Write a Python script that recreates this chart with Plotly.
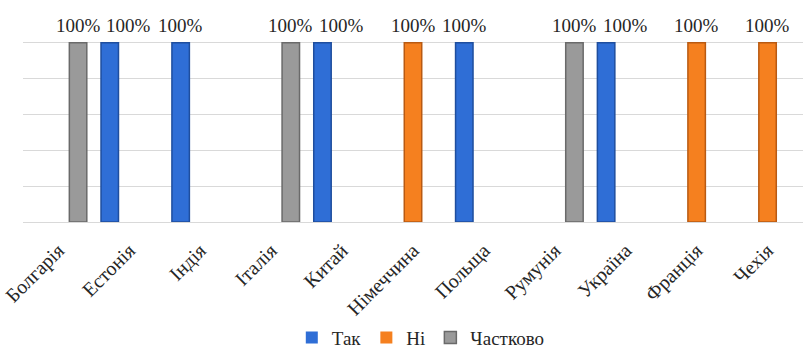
import plotly.graph_objects as go

countries = ["Болгарія", "Естонія", "Індія", "Італія", "Китай", "Німеччина",
             "Польща", "Румунія", "Україна", "Франція", "Чехія"]
yes_vals = [0, 1, 1, 0, 1, 0, 1, 0, 1, 0, 0]
no_vals = [0, 0, 0, 0, 0, 1, 0, 0, 0, 1, 1]
partly_vals = [1, 0, 0, 1, 0, 0, 0, 1, 0, 0, 0]

series = [
    ("Так", yes_vals, "#2F6ED6", "#1F4E9E"),
    ("Ні", no_vals, "#F5801F", "#B95A12"),
    ("Частково", partly_vals, "#9A9A9A", "#6A6A6A"),
]

serif = "Liberation Serif"
txt = "#262626"

W, H = 803, 348
ML, MR, MT, MB = 23, 0, 7, 126
BARGAP, GROUPGAP = 0.17, 0.11

fig = go.Figure()
for name, vals, fill, edge in series:
    fig.add_trace(go.Bar(
        name=name, x=countries, y=vals,
        marker=dict(color=fill,
                    line=dict(color=edge, width=[1.5 if v else 0 for v in vals])),
        cliponaxis=False,
    ))

# value labels above each non-zero bar; a label is nudged right when the
# previous category's right-hand label would otherwise collide with it
cat_px = (W - ML - MR) / len(countries)
slot_px = (1 - BARGAP) * cat_px / len(series)
annotations = []
for si, (name, vals, fill, edge) in enumerate(series):
    offset = (si - (len(series) - 1) / 2) * slot_px
    for ci, v in enumerate(vals):
        if not v:
            continue
        shift = offset
        if si == 0 and ci > 0 and series[-1][1][ci - 1]:
            shift += 19
        annotations.append(dict(
            x=countries[ci], y=v, xref="x", yref="y",
            text=f"{v:.0%}", showarrow=False,
            xanchor="center", yanchor="bottom", xshift=shift, yshift=5,
            font=dict(family=serif, size=19, color=txt),
        ))

fig.update_layout(
    width=W, height=H,
    margin=dict(l=ML, r=MR, t=MT, b=MB),
    paper_bgcolor="white", plot_bgcolor="white",
    barmode="group", bargap=BARGAP, bargroupgap=GROUPGAP,
    showlegend=True,
    legend=dict(orientation="h", x=0.51, xanchor="center",
                yref="container", y=0.03, yanchor="middle",
                font=dict(family=serif, size=19, color=txt),
                itemwidth=30),
    font=dict(family=serif, size=19, color=txt),
    annotations=annotations,
)
fig.update_xaxes(tickangle=-45, tickfont=dict(family=serif, size=20, color=txt),
                 showline=True, linecolor="#d9d9d9", linewidth=1, ticks="",
                 ticklabelstandoff=8, automargin=False)
fig.update_yaxes(range=[0, 1.2], dtick=0.2, showticklabels=False,
                 showgrid=True, gridcolor="#d9d9d9", gridwidth=1,
                 zeroline=False, automargin=False)

fig.write_html("out.html")
